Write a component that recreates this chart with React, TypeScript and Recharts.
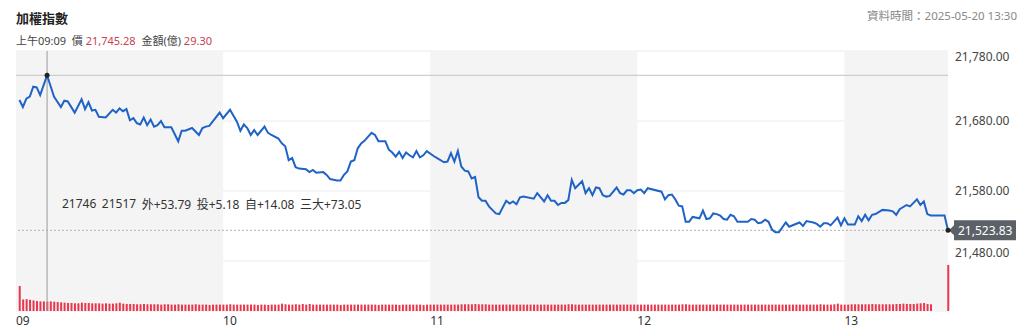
import React from 'react';
import {
  ComposedChart,
  Line,
  Bar,
  XAxis,
  YAxis,
  CartesianGrid,
  ReferenceArea,
  ReferenceLine,
  ReferenceDot
} from 'recharts';

// minute offsets from 09:00 and index values
const priceMinutes = [
  1, 2, 3, 4, 5, 6, 7, 9, 11, 13, 14, 15, 17, 19, 20, 21, 22, 23, 24, 26,
  28, 29, 30, 31, 32, 33, 34, 35, 36, 37, 38, 39, 40, 41, 42, 43, 45, 47, 48, 49,
  51, 53, 54, 55, 56, 59, 60, 62, 64, 65, 66, 67, 68, 69, 70, 72, 73, 74, 76, 77,
  78, 79, 80, 81, 82, 84, 85, 86, 87, 89, 90, 91, 93, 94, 95, 96, 97, 98, 99, 100,
  101, 103, 104, 105, 107, 108, 109, 110, 111, 112, 113, 114, 115, 116, 117, 118, 119, 121, 122, 124,
  125, 126, 127, 128, 129, 130, 131, 132, 133, 134, 135, 136, 137, 139, 140, 142, 143, 144, 145, 146,
  147, 150, 151, 153, 154, 155, 156, 157, 158, 159, 160, 161, 162, 164, 165, 166, 167, 168, 169, 170,
  171, 172, 174, 175, 176, 177, 178, 179, 180, 181, 182, 183, 187, 188, 189, 190, 191, 192, 193, 194,
  195, 196, 198, 199, 200, 201, 202, 203, 204, 205, 206, 207, 208, 209, 212, 213, 214, 215, 216, 217,
  218, 219, 220, 221, 223, 224, 225, 227, 228, 229, 231, 232, 233, 234, 235, 236, 238, 239, 240, 241,
  243, 244, 245, 246, 247, 248, 249, 251, 253, 254, 255, 256, 258, 259, 261, 262, 263, 264, 265, 269,
  270
];

const prices = [
  21710, 21700, 21712, 21715, 21729, 21728, 21717, 21745.28, 21715, 21700, 21709, 21708, 21692, 21711, 21697, 21707, 21695, 21696, 21686, 21685,
  21696, 21692, 21698, 21694, 21697, 21681, 21684, 21677, 21675, 21685, 21674, 21682, 21672, 21674, 21680, 21671, 21671, 21651, 21666, 21666,
  21670, 21660, 21670, 21672, 21673, 21692, 21684, 21696, 21679, 21666, 21675, 21670, 21660, 21667, 21660, 21672, 21663, 21660, 21655, 21648,
  21644, 21624, 21627, 21614, 21612, 21611, 21607, 21610, 21606, 21607, 21603, 21597, 21595, 21595, 21603, 21608, 21622, 21624, 21641, 21648,
  21652, 21663, 21660, 21651, 21651, 21639, 21635, 21629, 21636, 21627, 21635, 21631, 21628, 21637, 21628, 21631, 21637, 21630, 21627, 21621,
  21622, 21634, 21622, 21637, 21615, 21609, 21608, 21598, 21600, 21571, 21566, 21566, 21558, 21548, 21547, 21566, 21562, 21565, 21561, 21571,
  21572, 21569, 21577, 21565, 21574, 21566, 21566, 21560, 21563, 21563, 21567, 21596, 21584, 21594, 21577, 21584, 21574, 21585, 21584, 21574,
  21572, 21573, 21585, 21577, 21575, 21581, 21581, 21577, 21581, 21582, 21577, 21584, 21579, 21568, 21574, 21575, 21568, 21559, 21558, 21536,
  21536, 21543, 21541, 21552, 21540, 21541, 21548, 21547, 21545, 21540, 21539, 21546, 21544, 21536, 21536, 21540, 21539, 21534, 21535, 21539,
  21536, 21525, 21521, 21521, 21535, 21529, 21531, 21535, 21530, 21537, 21535, 21533, 21529, 21534, 21534, 21531, 21542, 21531, 21541, 21532,
  21532, 21544, 21537, 21546, 21538, 21546, 21547, 21553, 21552, 21551, 21546, 21554, 21560, 21558, 21568, 21560, 21565, 21547, 21545, 21545,
  21523.83
];

// trade amount (億) per minute, 09:01 .. 13:25
const volumes = [
  78, 36, 37, 35, 33, 31, 30, 30, 29.3, 30, 29, 28, 27, 26, 25, 25, 24, 24, 26, 25,
  25, 24, 24, 24, 23, 24, 23, 23, 24, 26, 23, 22, 22, 22, 21, 21, 22, 21, 21, 21,
  21, 20, 21, 21, 20, 20, 21, 20, 20, 20, 20, 21, 20, 20, 20, 19, 20, 20, 20, 20,
  20, 21, 20, 20, 20, 20, 20, 20, 20, 19, 20, 20, 19, 20, 20, 20, 23, 21, 20, 20,
  21, 20, 22, 20, 22, 20, 20, 20, 20, 20, 20, 20, 20, 19, 20, 20, 20, 20, 20, 20,
  20, 20, 20, 20, 19, 20, 20, 20, 20, 20, 19, 20, 20, 20, 20, 20, 20, 19, 20, 20,
  20, 20, 20, 20, 20, 20, 20, 20, 21, 21, 21, 21, 22, 21, 21, 21, 20, 20, 20, 20,
  20, 20, 20, 20, 20, 20, 20, 20, 20, 20, 20, 20, 20, 20, 20, 20, 20, 20, 20, 21,
  21, 20, 20, 20, 20, 20, 20, 20, 20, 20, 20, 20, 20, 20, 20, 20, 20, 20, 20, 20,
  20, 20, 20, 20, 20, 20, 20, 20, 20, 20, 20, 20, 21, 21, 20, 20, 20, 20, 20, 20,
  20, 20, 20, 20, 20, 20, 20, 20, 20, 20, 20, 20, 20, 20, 20, 20, 20, 20, 20, 20,
  20, 20, 20, 20, 20, 20, 20, 20, 20, 20, 20, 20, 21, 20, 20, 20, 21, 23, 20, 20,
  20, 21, 21, 21, 21, 21, 21, 22, 21, 21, 21, 21, 21, 21, 22, 22, 23, 22, 22, 22,
  23, 24, 25, 22, 21
];
const closingMinute = 270;
const closingVolume = 144;

const hourTicks = [0, 60, 120, 180, 240];
const hourLabels = ['09', '10', '11', '12', '13'];
const priceTicks = [21480, 21580, 21680, 21780];
const shadedHours = [[0, 60], [120, 180], [240, 270]];

const hoverMinute = 9;
const hoverPrice = 21745.28;
const lastPrice = 21523.83;
const infoItems = ['21746', '21517', '外+53.79', '投+5.18', '自+14.08', '三大+73.05'];

const FONT = '"Noto Sans", "Noto Sans CJK TC", sans-serif';

const rows = Array.from({ length: 271 }, (_, m) => {
  const i = priceMinutes.indexOf(m);
  let vol: number | undefined = m >= 1 && m <= volumes.length ? volumes[m - 1] : undefined;
  if (m === closingMinute) vol = closingVolume;
  return { m, price: i >= 0 ? prices[i] : undefined, vol };
});

const fmt = (v: number) =>
  v.toLocaleString('en-US', { minimumFractionDigits: 2, maximumFractionDigits: 2 });

function HourTick(props: any) {
  const { x, y, payload } = props;
  const idx = hourTicks.indexOf(payload.value);
  return (
    <text x={x} y={y + 14} textAnchor="start" fontSize={12} fill="#333" fontFamily={FONT}>
      {hourLabels[idx]}
    </text>
  );
}

function PriceTick(props: any) {
  const { x, y, payload } = props;
  let dy = 4;
  if (payload.value === 21780) dy = 10;
  if (payload.value === 21480) dy = -4;
  return (
    <text x={x + 7} y={y + dy} textAnchor="start" fontSize={12} fill="#444" fontFamily={FONT}>
      {fmt(payload.value)}
    </text>
  );
}

function PriceTag(props: any) {
  const vb = props.viewBox || {};
  const r = (vb.x || 0) + (vb.width || 0);
  const cy = vb.y || 0;
  const pts = [
    [r + 1, cy], [r + 6, cy - 5], [r + 6, cy - 10], [r + 68, cy - 10],
    [r + 68, cy + 10], [r + 6, cy + 10], [r + 6, cy + 5]
  ].map(p => p.join(',')).join(' ');
  return (
    <g>
      <polygon points={pts} fill="#5c6168" />
      <text x={r + 10} y={cy + 4.5} fontSize={12} fill="#fff" fontFamily={FONT}>
        {fmt(lastPrice)}
      </text>
    </g>
  );
}

export default function App() {
  return (
    <div style={{ position: 'absolute', left: 0, top: 0, width: 1024, height: 328, background: '#fff', fontFamily: FONT }}>
      <div style={{ position: 'absolute', left: 16, top: 8, fontSize: 13, fontWeight: 700, color: '#222' }}>加權指數</div>
      <div style={{ position: 'absolute', left: 16, top: 32, fontSize: 11, color: '#444', whiteSpace: 'nowrap' }}>
        上午09:09&nbsp; 價 <span style={{ color: '#c8414f' }}>21,745.28</span>&nbsp; 金額(億) <span style={{ color: '#c8414f' }}>29.30</span>
      </div>
      <div style={{ position: 'absolute', right: 7, top: 7, fontSize: 11.5, color: '#888', whiteSpace: 'nowrap' }}>
        資料時間：2025-05-20 13:30
      </div>

      <ComposedChart
        width={1024}
        height={328}
        data={rows}
        margin={{ top: 51, right: 0, bottom: 0, left: 16 }}
        style={{ position: 'absolute', left: 0, top: 0 }}
      >
        {shadedHours.map(([a, b]) => (
          <ReferenceArea key={a} x1={a} x2={b} yAxisId="price" fill="#f4f4f4" fillOpacity={1} stroke="none" />
        ))}
        <CartesianGrid yAxisId="price" vertical={false} stroke="#ebebeb" />
        <XAxis
          dataKey="m"
          type="number"
          domain={[0, 270]}
          ticks={hourTicks}
          height={17}
          axisLine={false}
          tickLine={false}
          tickSize={0}
          tickMargin={0}
          tick={<HourTick />}
          interval={0}
        />
        <YAxis
          yAxisId="price"
          orientation="right"
          domain={[21408.57, 21780]}
          ticks={priceTicks}
          width={76}
          axisLine={false}
          tickLine={false}
          tickSize={0}
          tickMargin={0}
          tick={<PriceTick />}
          allowDataOverflow
        />
        <YAxis yAxisId="vol" hide domain={[0, 812]} allowDataOverflow />
        <Bar dataKey="vol" yAxisId="vol" fill="#e8374d" barSize={2} isAnimationActive={false} />
        <ReferenceLine x={hoverMinute} yAxisId="price" stroke="#9a9a9a" />
        <ReferenceLine y={hoverPrice} yAxisId="price" stroke="#c4c4c4" />
        <ReferenceLine
          y={lastPrice}
          yAxisId="price"
          stroke="#b0b0b0"
          strokeDasharray="2 2"
          label={(p: any) => <PriceTag {...p} />}
        />
        <Line
          dataKey="price"
          yAxisId="price"
          type="linear"
          stroke="#1f63c6"
          strokeWidth={2}
          dot={false}
          connectNulls
          isAnimationActive={false}
        />
        <ReferenceDot x={hoverMinute} y={hoverPrice} yAxisId="price" r={2.5} fill="#222" stroke="none" />
        <ReferenceDot x={closingMinute} y={lastPrice} yAxisId="price" r={2.5} fill="#222" stroke="none" />
      </ComposedChart>

      <div style={{ position: 'absolute', left: 62, top: 195, fontSize: 12, color: '#333', whiteSpace: 'nowrap', display: 'flex', gap: 5.5 }}>
        {infoItems.map(t => <span key={t}>{t}</span>)}
      </div>
    </div>
  );
}
